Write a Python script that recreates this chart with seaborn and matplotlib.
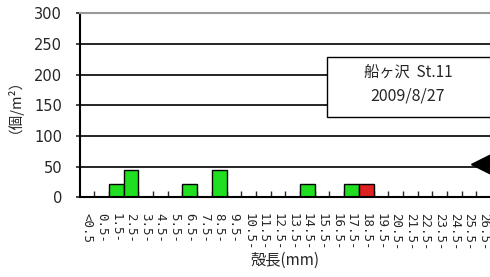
import numpy as np
import matplotlib
matplotlib.use("Agg")
import matplotlib.pyplot as plt
import seaborn as sns
import pandas as pd
from matplotlib.ticker import FixedLocator

sns.set_style("white")
plt.rcParams['font.family'] = ['Noto Sans CJK JP', 'DejaVu Sans']

# size classes (shell length, mm)
classes = ["<0.5"] + [f"{i}.5-" for i in range(0, 30)]
# density (ind./m2) of live (green) and dead (red) individuals
live = {"1.5-": 22.2, "2.5-": 44.4, "6.5-": 22.2, "8.5-": 44.4,
        "14.5-": 22.2, "17.5-": 22.2}
dead = {"18.5-": 22.2}
yticks = [0, 50, 100, 150, 200, 250, 300]

rows = []
for c in classes:
    rows.append({"class": c, "kind": "live", "n": live.get(c, 0)})
    rows.append({"class": c, "kind": "dead", "n": dead.get(c, 0)})
df = pd.DataFrame(rows)

fig = plt.figure(figsize=(4.9, 2.77), dpi=100)
ax = fig.add_axes([79.5 / 490, 79.7 / 277, 410.5 / 490, 184 / 277])

sns.barplot(data=df, x="class", y="n", hue="kind", order=classes,
            palette={"live": "#00ff00", "dead": "#ff0000"}, dodge=False,
            width=1.0, edgecolor="black", linewidth=1.0, legend=False, ax=ax)

ax.set_yticks(yticks)
ax.set_yticklabels([str(v) for v in yticks], family="DejaVu Sans",
                   fontsize=10.5)
ax.yaxis.grid(True, color="black", lw=1.2)
ax.set_axisbelow(True)
ax.spines["right"].set_visible(False)
ax.spines["top"].set_color("#999999")
ax.spines["top"].set_linewidth(1.5)
for s in ["left", "bottom"]:
    ax.spines[s].set_linewidth(1.5)
    ax.spines[s].set_color("black")

ax.tick_params(axis="y", which="major", left=True, length=3, width=1.2,
               pad=9.5)
ax.tick_params(axis="x", which="major", length=0, pad=11)
ax.set_xticks(range(len(classes)))
ax.set_xticklabels(classes, rotation=-90, va="top", ha="center",
                   family="DejaVu Sans Mono", fontsize=9)
ax.xaxis.set_minor_locator(FixedLocator(np.arange(0.5, len(classes), 1)))
ax.tick_params(axis="x", which="minor", bottom=True, direction="in",
               length=4, width=1)
ax.set_xlim(-0.5, 27.42)
ax.set_ylim(0, 300)

ax.set_xlabel("殻長(mm)", fontsize=11, labelpad=1)
ax.set_ylabel("（個/m²）", fontsize=10.5)
ax.yaxis.set_label_coords(-0.157, 0.54)

box = plt.Rectangle((0.603, 0.436), 0.5, 0.3265, transform=ax.transAxes,
                    facecolor="white", edgecolor="black", lw=1.0,
                    zorder=5, clip_on=False)
ax.add_patch(box)
ax.text(0.80, 0.681, "船ヶ沢  St.11", transform=ax.transAxes, ha="center",
        va="center", fontsize=11, zorder=6)
ax.text(0.80, 0.55, "2009/8/27", transform=ax.transAxes, ha="center",
        va="center", fontsize=11.5, zorder=6)

ax.plot([0.978], [0.181], marker="<", ms=14, color="black",
        transform=ax.transAxes, clip_on=False, zorder=6)

fig.savefig("out.png", dpi=100)
